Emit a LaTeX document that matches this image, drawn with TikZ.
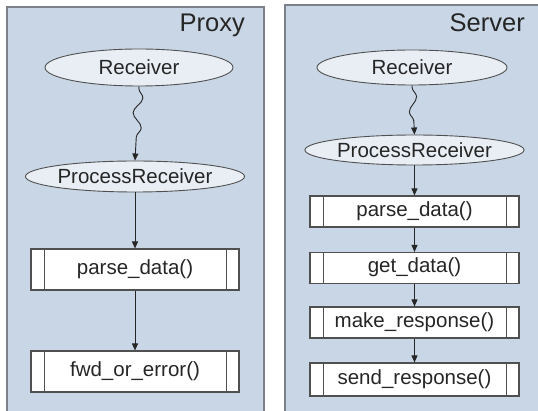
\documentclass[tikz,border=0pt]{standalone}
\usepackage{fontspec}
\setmainfont{Liberation Sans}
\usetikzlibrary{shapes.geometric,arrows.meta,decorations.pathmorphing}
\definecolor{panelfill}{HTML}{C9D6E5}
\definecolor{panelline}{HTML}{7D8088}
\definecolor{ellfill}{HTML}{E9EEF5}
\definecolor{edgecol}{HTML}{505050}
\tikzset{
  panel/.style={draw=panelline,line width=1.6pt,fill=panelfill},
  title/.style={font=\fontsize{25.5}{28}\selectfont,inner sep=0pt,text=black!85},
  ellnode/.style={ellipse,draw=edgecol,line width=0.9pt,fill=ellfill,inner sep=0pt,
    font=\fontsize{20.5}{24}\selectfont,text=black!85},
  procbox/.style={rectangle,draw=edgecol,line width=1.1pt,fill=white,inner sep=0pt,
    minimum width=208pt,font=\fontsize{20.5}{24}\selectfont,text=black!85,
    text height=14pt,text depth=4pt,
    path picture={
      \draw[edgecol,line width=0.9pt]
        ([xshift=13pt]path picture bounding box.north west) -- ([xshift=13pt]path picture bounding box.south west)
        ([xshift=-13pt]path picture bounding box.north east) -- ([xshift=-13pt]path picture bounding box.south east);
    }},
  flow/.style={draw=black!85,line width=0.9pt,-{Triangle[length=7pt,width=6pt]}},
  wavy/.style={draw=black!85,line width=0.9pt,-{Triangle[length=7pt,width=6pt]},
    decorate,decoration={snake,amplitude=#1,segment length=30pt,pre length=2pt,post length=9pt}}
}
\begin{document}
\begin{tikzpicture}[x=1pt,y=-1pt]
\useasboundingbox (0,0) rectangle (538,411);
\clip (0,0) rectangle (538,411);
% panels
\path[panel] (7,7) rectangle (264,425);
\path[panel] (285,5) rectangle (550,425);
\node[title,anchor=base east] (tp) at (245,31.5) {Proxy};
\node[title,anchor=base east] (ts) at (525,31.5) {Server};
% Proxy
\node[ellnode,minimum width=188pt,minimum height=37pt] (pr) at (139,67.5) {Receiver};
\node[ellnode,minimum width=197pt,minimum height=31pt] (pp) at (135,176.5) {ProcessReceiver};
\node[procbox,minimum height=41pt] (ppa) at (135,269.5) {parse\_data()};
\node[procbox,minimum height=41pt] (pfw) at (135,371.5) {fwd\_or\_error()};
\draw[wavy=4.5pt] (pr.south) -- (pp.north);
\draw[flow] (pp) -- (ppa);
\draw[flow] (ppa) -- (pfw);
% Server
\node[ellnode,minimum width=190pt,minimum height=35pt] (sr) at (412,67.5) {Receiver};
\node[ellnode,minimum width=197pt,minimum height=30pt] (sp) at (414.5,150) {ProcessReceiver};
\node[procbox,minimum width=209pt,minimum height=31pt] (spa) at (414.5,211.5) {parse\_data()};
\node[procbox,minimum width=209pt,minimum height=31pt] (sg) at (414.5,268) {get\_data()};
\node[procbox,minimum width=209pt,minimum height=31pt] (sm) at (414.5,322.5) {make\_response()};
\node[procbox,minimum width=209pt,minimum height=33pt] (ss) at (414.5,379.5) {send\_response()};
\draw[wavy=4pt] (sr.south) -- (sp.north);
\draw[flow] (sp) -- (spa);
\draw[flow] (spa) -- (sg);
\draw[flow] (sg) -- (sm);
\draw[flow] (sm) -- (ss);
\end{tikzpicture}
\end{document}
